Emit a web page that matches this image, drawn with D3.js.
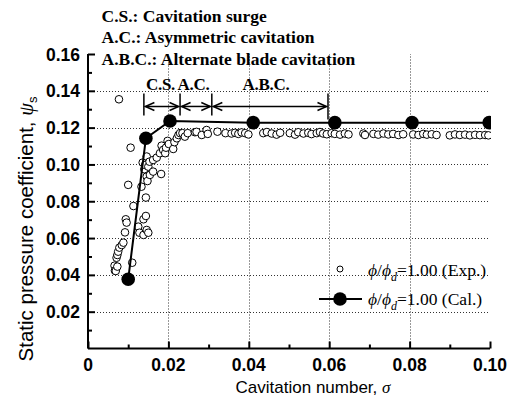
<!DOCTYPE html>
<html><head><meta charset="utf-8">
<script src="https://cdn.jsdelivr.net/npm/d3@7"></script>
<style>
body{margin:0;background:#fff;}
svg{display:block;}
</style></head>
<body>
<svg id="chart" width="523" height="405"></svg>
<script>
// ---- data ----
const xTicks = [0, 0.02, 0.04, 0.06, 0.08, 0.10];
const xTickLabels = ["0", "0.02", "0.04", "0.06", "0.08", "0.10"];
const yTicks = [0.02, 0.04, 0.06, 0.08, 0.10, 0.12, 0.14, 0.16];
const yTickLabels = ["0.02", "0.04", "0.06", "0.08", "0.10", "0.12", "0.14", "0.16"];

// calculated (filled circles)
const calSigma = [0.0100, 0.0144, 0.0204, 0.0411, 0.0614, 0.0806, 0.0998];
const calPsi   = [0.0376, 0.1142, 0.1236, 0.1227, 0.1227, 0.1227, 0.1227];

// experimental (open circles)
const expSigma = [
 0.0077,0.0066,0.0067,0.0069,0.0071,0.0073,0.0073,0.0075,0.0078,0.0084,0.0088,0.0092,0.0094,0.0096,0.0100,0.0106,0.0110,0.0113,
 0.0125,0.0128,0.0133,0.0138,0.0138,0.0144,0.0144,0.0146,0.0150,0.0140,0.0136,0.0142,0.0146,0.0146,0.0148,0.0150,0.0153,0.0154,
 0.0162,0.0162,0.0171,0.0179,0.0182,0.0183,0.0187,0.0192,0.0194,0.0198,0.0201,0.0212,0.0215,0.0221,0.0225,0.0229,0.0235,0.0241,
 0.0248,0.0266,0.0270,0.0283,0.0295,0.0298,0.0322,0.0342,0.0357,0.0366,0.0374,0.0382,0.0391,0.0399,0.0436,0.0445,0.0457,0.0469,
 0.0478,0.0502,0.0515,0.0523,0.0536,0.0548,0.0556,0.0569,0.0577,0.0585,0.0594,0.0606,0.0614,0.0627,0.0639,0.0648,0.0685,0.0689,
 0.0710,0.0722,0.0735,0.0747,0.0759,0.0772,0.0784,0.0809,0.0822,0.0834,0.0843,0.0855,0.0867,0.0900,0.0913,0.0925,0.0938,0.0950,
 0.0963,0.0975,0.0988,0.0996
];
const expPsi = [
 0.1354,0.0450,0.0423,0.0421,0.0493,0.0445,0.0508,0.0526,0.0548,0.0562,0.0575,0.0631,0.0702,0.0684,0.0889,0.1091,0.0466,0.0774,
 0.0662,0.0629,0.0879,0.0702,0.0617,0.0820,0.0720,0.0644,0.0629,0.0974,0.1010,0.0997,0.1043,0.0934,0.0910,0.0988,0.1015,0.0943,
 0.0961,0.1024,0.1037,0.1061,0.0948,0.1102,0.1079,0.1061,0.1091,0.1128,0.1111,0.1084,0.1121,0.1142,0.1160,0.1170,0.1170,0.1151,
 0.1170,0.1175,0.1177,0.1160,0.1187,0.1166,0.1178,0.1170,0.1168,0.1172,0.1166,0.1174,0.1170,0.1163,0.1170,0.1176,0.1168,0.1162,
 0.1172,0.1170,0.1162,0.1175,0.1168,0.1172,0.1165,0.1170,0.1176,0.1168,0.1164,0.1170,0.1166,0.1162,0.1168,0.1163,0.1168,0.1160,
 0.1166,0.1162,0.1168,0.1163,0.1166,0.1160,0.1164,0.1163,0.1160,0.1166,0.1162,0.1164,0.1160,0.1158,0.1163,0.1160,0.1162,0.1158,
 0.1161,0.1159,0.1160,0.1158
];

// regime boundaries (sigma) and labels
const regimeBounds = [0.0139, 0.0229, 0.0308, 0.0597];
const regimeLabels = ["C.S.", "A.C.", "A.B.C."];
const regimeArrowPsi = 0.1315;
const noteLines = ["C.S.: Cavitation surge", "A.C.: Asymmetric cavitation", "A.B.C.: Alternate blade cavitation"];

// ---- drawing ----
const svg = d3.select("#chart");
const x = d3.scaleLinear().domain([0, 0.10]).range([88, 490]);
const y = d3.scaleLinear().domain([0, 0.16]).range([348.5, 54]);
const sans = "'Liberation Sans', Arial, sans-serif";
const serif = "'Liberation Serif', 'Times New Roman', serif";

svg.append("defs").append("clipPath").attr("id","clip")
  .append("rect").attr("x", 87).attr("y", 40).attr("width", 404).attr("height", 320);

// grid
const grid = svg.append("g").attr("stroke", "#333").attr("stroke-width", 1).attr("stroke-dasharray", "1,2");
grid.selectAll("line.h").data(yTicks.filter(d => d < 0.155)).join("line")
  .attr("x1", x(0)).attr("x2", x(0.10)).attr("y1", d => Math.round(y(d)) + 0.5).attr("y2", d => Math.round(y(d)) + 0.5);
grid.selectAll("line.v").data([0.02, 0.04, 0.06, 0.08]).join("line").attr("class","v")
  .attr("y1", y(0)).attr("y2", y(0.16)).attr("x1", d => Math.round(x(d)) + 0.5).attr("x2", d => Math.round(x(d)) + 0.5);

// axes
const xAxis = d3.axisBottom(x).tickValues(d3.range(0, 0.1001, 0.01)).tickSize(0).tickFormat("");
const gx = svg.append("g").attr("transform", `translate(0,${y(0)})`).call(xAxis);
gx.select(".domain").attr("stroke", "#000").attr("stroke-width", 2).attr("d", `M${x(0)},0H${x(0.10)}`);
gx.selectAll(".tick line").attr("stroke", "#000").attr("stroke-width", 2)
  .attr("y2", (d, i) => (i % 2 === 0 ? -7 : -4));
svg.append("g").selectAll("text").data(xTicks).join("text")
  .attr("x", d => x(d)).attr("y", 371).attr("text-anchor", "middle")
  .attr("font-family", sans).attr("font-weight", "bold").attr("font-size", 17.5)
  .text((d, i) => xTickLabels[i]);

const yAxis = d3.axisLeft(y).tickValues(d3.range(0.01, 0.1601, 0.01)).tickSize(0).tickFormat("");
const gy = svg.append("g").attr("transform", `translate(${x(0)},0)`).call(yAxis);
gy.select(".domain").attr("stroke", "#000").attr("stroke-width", 2).attr("d", `M0,${y(0)}V${y(0.16)}`);
gy.selectAll(".tick line").attr("stroke", "#000").attr("stroke-width", 2)
  .attr("x2", (d, i) => (i % 2 === 1 ? 7 : 4));
svg.append("g").selectAll("text").data(yTicks).join("text")
  .attr("x", 80).attr("y", d => y(d) + 6.5).attr("text-anchor", "end")
  .attr("font-family", sans).attr("font-weight", "bold").attr("font-size", 17.5)
  .text((d, i) => yTickLabels[i]);

// axis titles
const xt = svg.append("text").attr("x", 313).attr("y", 393).attr("text-anchor", "middle")
  .attr("font-family", sans).attr("font-size", 17);
xt.append("tspan").text("Cavitation number, ");
xt.append("tspan").attr("font-family", serif).attr("font-style", "italic").text("σ");

const yt = svg.append("text").attr("transform", "translate(33,229) rotate(-90)").attr("text-anchor", "middle")
  .attr("font-family", sans).attr("font-size", 20.5);
yt.append("tspan").text("Static pressure coefficient, ");
yt.append("tspan").attr("font-family", serif).attr("font-style", "italic").text("ψ");
yt.append("tspan").attr("font-size", 13).attr("dy", 4).text("s");

// experimental points
const plot = svg.append("g").attr("clip-path", "url(#clip)");
plot.append("g").selectAll("circle").data(expSigma).join("circle")
  .attr("cx", d => x(d)).attr("cy", (d, i) => y(expPsi[i])).attr("r", 3.8)
  .attr("fill", "#fff").attr("stroke", "#000").attr("stroke-width", 1);

// calculated line and points
const line = d3.line().x(d => x(d[0])).y(d => y(d[1]));
plot.append("path").datum(calSigma.map((s, i) => [s, calPsi[i]]))
  .attr("d", line).attr("fill", "none").attr("stroke", "#000").attr("stroke-width", 2);
plot.append("g").selectAll("circle").data(calSigma).join("circle")
  .attr("cx", d => x(d)).attr("cy", (d, i) => y(calPsi[i])).attr("r", 6.8).attr("fill", "#000");

// regime arrows
const ay = y(regimeArrowPsi);
const ann = svg.append("g").attr("stroke", "#000").attr("stroke-width", 1.5).attr("fill", "none");
regimeBounds.forEach((b, i) => {
  ann.append("line").attr("x1", x(b)).attr("x2", x(b)).attr("y1", ay - 13).attr("y2", ay + (i === 3 ? 13 : 9));
});
function arrowHead(px, dir) {
  ann.append("path").attr("d", `M${px + dir * 9},${ay - 4}L${px},${ay}L${px + dir * 9},${ay + 4}`);
}
for (let i = 0; i < 3; i++) {
  const a = x(regimeBounds[i]) + 1.5, b = x(regimeBounds[i + 1]) - 1.5;
  ann.append("line").attr("x1", a).attr("x2", b).attr("y1", ay).attr("y2", ay);
  arrowHead(a, 1); arrowHead(b, -1);
}
const lblX = [160.5, 193.5, 266];
svg.append("g").selectAll("text").data(regimeLabels).join("text")
  .attr("x", (d, i) => lblX[i]).attr("y", 90).attr("text-anchor", "middle")
  .attr("font-family", serif).attr("font-weight", "bold").attr("font-size", 17)
  .attr("letter-spacing", -0.3)
  .text(d => d);

// notes
svg.append("g").selectAll("text").data(noteLines).join("text")
  .attr("x", 101.5).attr("y", (d, i) => 21.5 + i * 21.7)
  .attr("font-family", serif).attr("font-weight", "bold").attr("font-size", 17.5)
  .text(d => d);

// legend
const lg = svg.append("g");
lg.append("circle").attr("cx", 340).attr("cy", 269).attr("r", 3).attr("fill", "#fff").attr("stroke", "#000");
lg.append("line").attr("x1", 319).attr("x2", 362).attr("y1", 299).attr("y2", 299).attr("stroke", "#000").attr("stroke-width", 2);
lg.append("circle").attr("cx", 340).attr("cy", 299).attr("r", 6.8).attr("fill", "#000");
function legText(yy, tail) {
  const t = lg.append("text").attr("x", 368).attr("y", yy).attr("font-family", serif).attr("font-size", 17.5);
  t.append("tspan").attr("font-style", "italic").text("ϕ");
  t.append("tspan").text("/");
  t.append("tspan").attr("font-style", "italic").text("ϕ");
  t.append("tspan").attr("font-style", "italic").attr("font-size", 12).attr("dy", 5).text("d");
  t.append("tspan").attr("dy", -5).text("=1.00 (" + tail + ")");
}
legText(276, "Exp.");
legText(305, "Cal.");
</script>
</body></html>
